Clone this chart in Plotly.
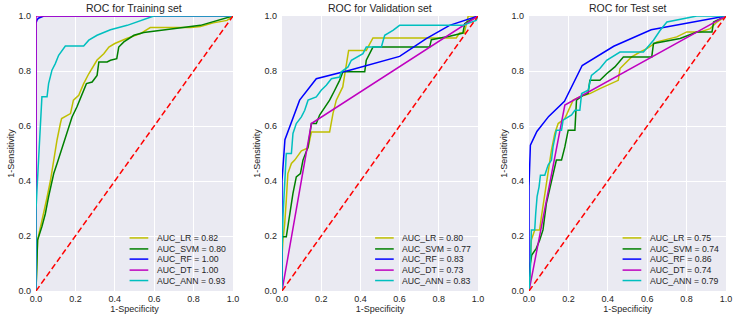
import plotly.graph_objects as go

# ---------------- data ----------------
set_titles = ["ROC for Training set", "ROC for Validation set", "ROC for Test set"]
model_names = ["LR", "SVM", "RF", "DT", "ANN"]
model_colors = ["#BFBF00", "#008000", "#0000FF", "#BF00BF", "#00BFBF"]

train_auc = [0.82, 0.80, 1.00, 1.00, 0.93]
valid_auc = [0.80, 0.77, 0.83, 0.73, 0.83]
test_auc = [0.75, 0.74, 0.86, 0.74, 0.79]

chance_x = [0, 1]
chance_y = [0, 1]

# Training set
train_lr_fpr = [0, 0.008, 0.019, 0.039, 0.056, 0.073, 0.09, 0.107, 0.124, 0.13, 0.175, 0.19, 0.217, 0.242, 0.268, 0.285, 0.31, 0.344, 0.37, 0.40, 0.46, 0.53, 0.58, 0.785, 0.835, 0.90, 0.97, 1.0]
train_lr_tpr = [0, 0.185, 0.22, 0.28, 0.34, 0.40, 0.476, 0.55, 0.61, 0.627, 0.645, 0.694, 0.712, 0.754, 0.79, 0.81, 0.84, 0.863, 0.887, 0.90, 0.918, 0.936, 0.958, 0.958, 0.962, 0.975, 0.984, 1.0]
train_svm_fpr = [0, 0.008, 0.03, 0.047, 0.064, 0.09, 0.107, 0.124, 0.15, 0.166, 0.183, 0.208, 0.234, 0.256, 0.285, 0.31, 0.319, 0.361, 0.378, 0.41, 0.42, 0.446, 0.497, 0.547, 0.835, 0.92, 1.0]
train_svm_tpr = [0, 0.185, 0.234, 0.28, 0.343, 0.427, 0.464, 0.50, 0.56, 0.597, 0.633, 0.67, 0.712, 0.754, 0.76, 0.784, 0.833, 0.833, 0.839, 0.845, 0.887, 0.906, 0.93, 0.94, 0.966, 0.984, 1.0]
train_rf_fpr = [0, 0, 0.005, 0.012, 0.04, 1.0]
train_rf_tpr = [0, 0.975, 0.985, 0.992, 1.0, 1.0]
train_dt_fpr = [0, 0, 1.0]
train_dt_tpr = [0, 1.0, 1.0]
train_ann_fpr = [0, 0, 0.005, 0.014, 0.022, 0.03, 0.056, 0.064, 0.081, 0.098, 0.115, 0.132, 0.149, 0.242, 0.268, 0.31, 0.378, 0.463, 0.58, 0.598, 1.0]
train_ann_tpr = [0, 0.294, 0.367, 0.50, 0.573, 0.706, 0.706, 0.754, 0.803, 0.827, 0.857, 0.875, 0.891, 0.891, 0.912, 0.93, 0.95, 0.966, 0.996, 1.0, 1.0]

# Validation set
valid_lr_fpr = [0, 0, 0.005, 0.014, 0.022, 0.03, 0.048, 0.065, 0.099, 0.133, 0.15, 0.243, 0.26, 0.277, 0.31, 0.328, 0.34, 0.43, 0.447, 0.464, 0.889, 0.906, 0.93, 0.95, 1.0]
valid_lr_tpr = [0, 0.125, 0.185, 0.246, 0.33, 0.427, 0.464, 0.476, 0.51, 0.52, 0.578, 0.578, 0.645, 0.694, 0.742, 0.82, 0.875, 0.875, 0.90, 0.92, 0.92, 0.938, 0.938, 1.0, 1.0]
valid_svm_fpr = [0, 0, 0.022, 0.03, 0.039, 0.056, 0.073, 0.094, 0.107, 0.133, 0.15, 0.175, 0.192, 0.218, 0.243, 0.269, 0.294, 0.311, 0.422, 0.43, 0.456, 0.464, 0.753, 0.762, 0.855, 0.923, 0.932, 0.957, 1.0]
valid_svm_tpr = [0, 0.197, 0.197, 0.234, 0.282, 0.355, 0.415, 0.427, 0.476, 0.524, 0.609, 0.609, 0.64, 0.67, 0.694, 0.73, 0.766, 0.797, 0.797, 0.839, 0.875, 0.887, 0.887, 0.914, 0.926, 0.938, 0.972, 0.984, 1.0]
valid_rf_fpr = [0, 0, 0.015, 0.09, 0.175, 0.345, 0.60, 0.736, 0.855, 1.0]
valid_rf_tpr = [0, 0.40, 0.55, 0.694, 0.772, 0.803, 0.853, 0.918, 0.966, 1.0]
valid_dt_fpr = [0, 0.15, 1.0]
valid_dt_tpr = [0, 0.609, 1.0]
valid_ann_fpr = [0, 0, 0.005, 0.014, 0.022, 0.048, 0.056, 0.073, 0.099, 0.116, 0.133, 0.175, 0.20, 0.226, 0.252, 0.294, 0.303, 0.337, 0.354, 0.413, 0.43, 0.507, 0.524, 0.566, 0.60, 0.923, 0.99, 1.0]
valid_ann_tpr = [0, 0.137, 0.27, 0.415, 0.50, 0.50, 0.573, 0.609, 0.633, 0.657, 0.694, 0.706, 0.73, 0.748, 0.772, 0.778, 0.797, 0.815, 0.839, 0.863, 0.887, 0.887, 0.93, 0.948, 0.966, 0.966, 0.984, 1.0]

# Test set
test_lr_fpr = [0, 0.007, 0.012, 0.029, 0.054, 0.063, 0.08, 0.097, 0.114, 0.131, 0.148, 0.182, 0.199, 0.224, 0.258, 0.309, 0.36, 0.411, 0.453, 0.462, 0.487, 0.521, 0.564, 0.598, 0.649, 0.75, 0.801, 0.869, 0.92, 0.954, 1.0]
test_lr_tpr = [0, 0.125, 0.185, 0.222, 0.222, 0.27, 0.355, 0.427, 0.512, 0.573, 0.609, 0.627, 0.657, 0.694, 0.706, 0.718, 0.736, 0.754, 0.766, 0.809, 0.827, 0.851, 0.869, 0.881, 0.906, 0.924, 0.942, 0.942, 0.954, 0.978, 1.0]
test_svm_fpr = [0, 0.007, 0.014, 0.037, 0.054, 0.071, 0.088, 0.105, 0.122, 0.139, 0.165, 0.182, 0.199, 0.233, 0.241, 0.275, 0.30, 0.309, 0.36, 0.394, 0.436, 0.479, 0.623, 0.632, 0.767, 0.852, 0.929, 0.937, 1.0]
test_svm_tpr = [0, 0.10, 0.131, 0.155, 0.185, 0.222, 0.318, 0.367, 0.427, 0.476, 0.476, 0.524, 0.585, 0.585, 0.694, 0.712, 0.718, 0.766, 0.766, 0.79, 0.815, 0.851, 0.851, 0.90, 0.918, 0.942, 0.942, 0.978, 1.0]
test_rf_fpr = [0, 0, 0.007, 0.04, 0.10, 0.18, 0.27, 0.43, 0.62, 0.80, 1.0]
test_rf_tpr = [0, 0.38, 0.53, 0.58, 0.635, 0.69, 0.82, 0.89, 0.95, 0.975, 1.0]
test_dt_fpr = [0, 0.182, 1.0]
test_dt_tpr = [0, 0.676, 1.0]
test_ann_fpr = [0, 0.007, 0.012, 0.029, 0.034, 0.041, 0.051, 0.058, 0.08, 0.097, 0.114, 0.122, 0.139, 0.165, 0.173, 0.216, 0.233, 0.258, 0.267, 0.30, 0.317, 0.36, 0.394, 0.436, 0.462, 0.581, 0.632, 0.666, 0.70, 0.852, 1.0]
test_ann_tpr = [0, 0.088, 0.222, 0.222, 0.282, 0.343, 0.379, 0.421, 0.421, 0.458, 0.476, 0.524, 0.585, 0.585, 0.621, 0.64, 0.657, 0.657, 0.718, 0.73, 0.784, 0.809, 0.839, 0.857, 0.869, 0.869, 0.912, 0.948, 0.978, 1.0, 1.0]

tick_vals = [0.0, 0.2, 0.4, 0.6, 0.8, 1.0]
tick_text = ["0.0", "0.2", "0.4", "0.6", "0.8", "1.0"]

panels = [
    (train_auc, [(train_lr_fpr, train_lr_tpr), (train_svm_fpr, train_svm_tpr), (train_rf_fpr, train_rf_tpr), (train_dt_fpr, train_dt_tpr), (train_ann_fpr, train_ann_tpr)]),
    (valid_auc, [(valid_lr_fpr, valid_lr_tpr), (valid_svm_fpr, valid_svm_tpr), (valid_rf_fpr, valid_rf_tpr), (valid_dt_fpr, valid_dt_tpr), (valid_ann_fpr, valid_ann_tpr)]),
    (test_auc, [(test_lr_fpr, test_lr_tpr), (test_svm_fpr, test_svm_tpr), (test_rf_fpr, test_rf_tpr), (test_dt_fpr, test_dt_tpr), (test_ann_fpr, test_ann_tpr)]),
]

# ---------------- figure ----------------
W, H = 750, 325
ML, MR, MT, MB = 36, 24, 16, 34
domains = [[0.0, 0.2855], [0.3565, 0.6406], [0.7145, 1.0]]
FONT = "Liberation Sans, Arial, sans-serif"
TXT = "#262626"

fig = go.Figure()
shapes = []
annotations = []
leg_y = [0.193, 0.153, 0.116, 0.076, 0.038]

for i, (aucs, curves) in enumerate(panels):
    sfx = "" if i == 0 else str(i + 1)
    xa, ya = "x" + sfx, "y" + sfx
    for j, (fx, ty) in enumerate(curves):
        fig.add_trace(go.Scatter(x=fx, y=ty, mode="lines", xaxis=xa, yaxis=ya,
                                 line=dict(color=model_colors[j], width=1.5),
                                 showlegend=False, hoverinfo="skip"))
    fig.add_trace(go.Scatter(x=chance_x, y=chance_y, mode="lines", xaxis=xa, yaxis=ya,
                             line=dict(color="#FF0000", width=1.5, dash="6px,3px"),
                             showlegend=False, hoverinfo="skip"))
    axis_common = dict(range=[0, 1], showgrid=True, gridcolor="white", gridwidth=1,
                       zeroline=False, showline=False, ticks="", tickvals=tick_vals,
                       ticktext=tick_text, tickfont=dict(size=9, color=TXT, family=FONT),
                       automargin=False, fixedrange=True)
    fig.update_layout(**{
        "xaxis" + sfx: dict(axis_common, domain=domains[i], anchor=ya, ticklabelstandoff=1,
                            title=dict(text="1-Specificity", font=dict(size=9, color=TXT, family=FONT), standoff=1)),
        "yaxis" + sfx: dict(axis_common, domain=[0, 1], anchor=xa, ticklabelstandoff=4,
                            title=dict(text="1-Sensitivity", font=dict(size=9, color=TXT, family=FONT), standoff=2)),
    })
    annotations.append(dict(text=set_titles[i], xref="paper", yref="paper",
                            x=(domains[i][0] + domains[i][1]) / 2, y=1.0,
                            xanchor="center", yanchor="bottom", showarrow=False, yshift=0,
                            font=dict(size=10.5, color=TXT, family=FONT)))
    # legend (drawn manually, lower right, no frame)
    for j in range(5):
        shapes.append(dict(type="line", xref=xa + " domain", yref=ya + " domain",
                           x0=0.475, x1=0.57, y0=leg_y[j], y1=leg_y[j],
                           line=dict(color=model_colors[j], width=1.5)))
        annotations.append(dict(text="AUC_%s = %.2f" % (model_names[j], aucs[j]),
                                xref=xa + " domain", yref=ya + " domain",
                                x=0.603, y=leg_y[j], xanchor="left", yanchor="middle",
                                showarrow=False, font=dict(size=8.7, color=TXT, family=FONT)))

fig.update_layout(width=W, height=H, margin=dict(l=ML, r=MR, t=MT, b=MB, pad=0),
                  paper_bgcolor="white", plot_bgcolor="#EAEAF2",
                  font=dict(family=FONT, color=TXT),
                  shapes=shapes, annotations=annotations, showlegend=False)

fig.write_html("out.html", config={"displayModeBar": False},
               post_script="document.body.style.margin='0px';")
